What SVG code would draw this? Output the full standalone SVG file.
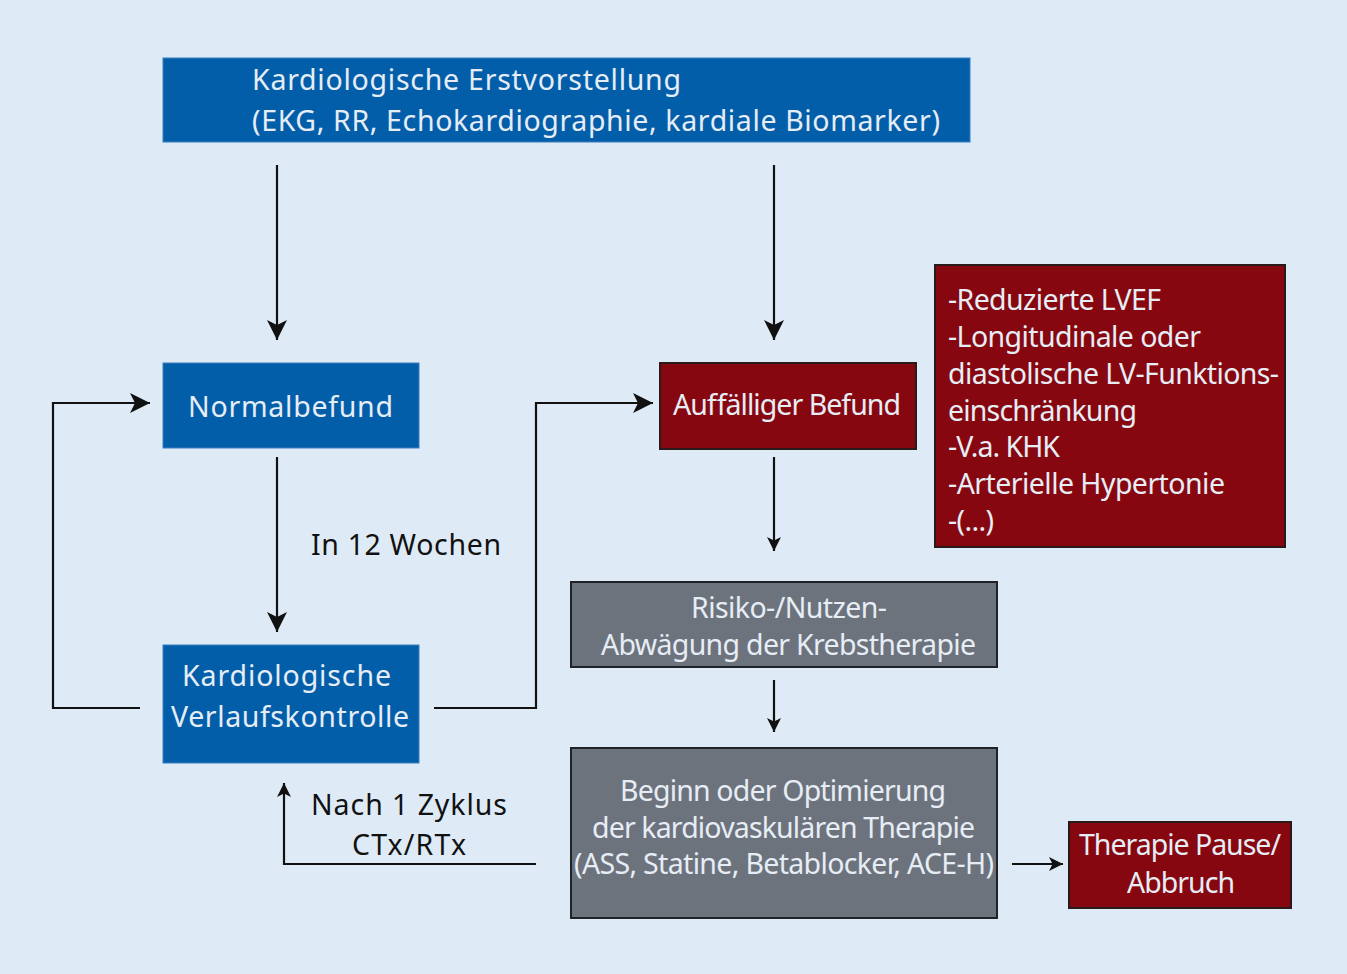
<svg xmlns="http://www.w3.org/2000/svg" width="1347" height="974" viewBox="0 0 1347 974">
<style>
.bg{fill:#deebf7}
.blue{fill:#035eaa;stroke:#3a7cc0;stroke-width:1}
.red{fill:#870710;stroke:#2a1a1a;stroke-width:2}
.gray{fill:#6d737d;stroke:#1f2226;stroke-width:2}
.t{font-family:"Noto Sans","Open Sans",sans-serif;fill:#e6edf5;font-size:28.5px}
.c{text-anchor:middle}
.lbl{font-family:"Noto Sans","Open Sans",sans-serif;fill:#111;font-size:28.5px}
.ln{fill:none;stroke:#111;stroke-width:2.2}
</style>
<defs>
<marker id="ah" viewBox="0 0 20 20" refX="20" refY="10" markerWidth="20" markerHeight="20" markerUnits="userSpaceOnUse" orient="auto">
<path d="M0,0 L20,10 L0,20 L5,10 Z" fill="#111"/>
</marker>
<marker id="as" viewBox="0 0 20 20" refX="20" refY="10" markerWidth="14" markerHeight="16" markerUnits="userSpaceOnUse" orient="auto">
<path d="M0,0 L20,10 L0,20 L5,10 Z" fill="#111"/>
</marker>
</defs>
<rect class="bg" x="0" y="0" width="1347" height="974"/>
<g id="connectors">
<path class="ln" d="M277,165 V340" marker-end="url(#ah)"/>
<path class="ln" d="M774,165 V340" marker-end="url(#ah)"/>
<path class="ln" d="M277,457 V632" marker-end="url(#ah)"/>
<path class="ln" d="M140,708 H53 V403 H150" marker-end="url(#ah)"/>
<path class="ln" d="M434,708 H536 V403 H653" marker-end="url(#ah)"/>
<path class="ln" d="M774,457 V551" marker-end="url(#as)"/>
<path class="ln" d="M774,680 V732" marker-end="url(#as)"/>
<path class="ln" d="M536,864 H284 V783" marker-end="url(#as)"/>
<path class="ln" d="M1012,864 H1063" marker-end="url(#as)"/>
</g>
<g id="erstvorstellung">
<rect class="blue" x="163" y="58" width="807" height="84"/>
<text class="t" x="252" y="90" textLength="429">Kardiologische Erstvorstellung</text>
<text class="t" x="252" y="131" textLength="688">(EKG, RR, Echokardiographie, kardiale Biomarker)</text>
</g>
<g id="normalbefund">
<rect class="blue" x="163" y="363" width="256" height="85"/>
<text class="t c" x="290.5" y="417" textLength="205">Normalbefund</text>
</g>
<g id="verlaufskontrolle">
<rect class="blue" x="163" y="645" width="256" height="118"/>
<text class="t c" x="286.5" y="686" textLength="209">Kardiologische</text>
<text class="t c" x="290" y="727" textLength="238">Verlaufskontrolle</text>
</g>
<g id="label-12wochen">
<text class="lbl" x="311" y="555" textLength="190">In 12 Wochen</text>
</g>
<g id="label-zyklus">
<text class="lbl" x="311" y="815" textLength="196">Nach 1 Zyklus</text>
<text class="lbl c" x="409" y="855" textLength="114">CTx/RTx</text>
</g>
<g id="auffaellig">
<rect class="red" x="660" y="363" width="256" height="86"/>
<text class="t c" x="787" y="415" textLength="228">Auffälliger Befund</text>
</g>
<g id="befundliste">
<rect class="red" x="935" y="265" width="350" height="282"/>
<text class="t" x="948" y="310" textLength="213">-Reduzierte LVEF</text>
<text class="t" x="948" y="347" textLength="253">-Longitudinale oder</text>
<text class="t" x="948" y="384" textLength="331">diastolische LV-Funktions-</text>
<text class="t" x="948" y="421" textLength="189">einschränkung</text>
<text class="t" x="948" y="457" textLength="112">-V.a. KHK</text>
<text class="t" x="948" y="494" textLength="277">-Arterielle Hypertonie</text>
<text class="t" x="948" y="531" textLength="46">-(...)</text>
</g>
<g id="abwaegung">
<rect class="gray" x="571" y="582" width="426" height="85"/>
<text class="t c" x="789" y="618" textLength="196">Risiko-/Nutzen-</text>
<text class="t c" x="788.5" y="655" textLength="375">Abwägung der Krebstherapie</text>
</g>
<g id="therapie">
<rect class="gray" x="571" y="748" width="426" height="170"/>
<text class="t c" x="783" y="801" textLength="326">Beginn oder Optimierung</text>
<text class="t c" x="783.5" y="838" textLength="383">der kardiovaskulären Therapie</text>
<text class="t c" x="784" y="874" textLength="420">(ASS, Statine, Betablocker, ACE-H)</text>
</g>
<g id="pause">
<rect class="red" x="1069" y="822" width="222" height="86"/>
<text class="t c" x="1180" y="855" textLength="202">Therapie Pause/</text>
<text class="t c" x="1181" y="893" textLength="108">Abbruch</text>
</g>
</svg>
